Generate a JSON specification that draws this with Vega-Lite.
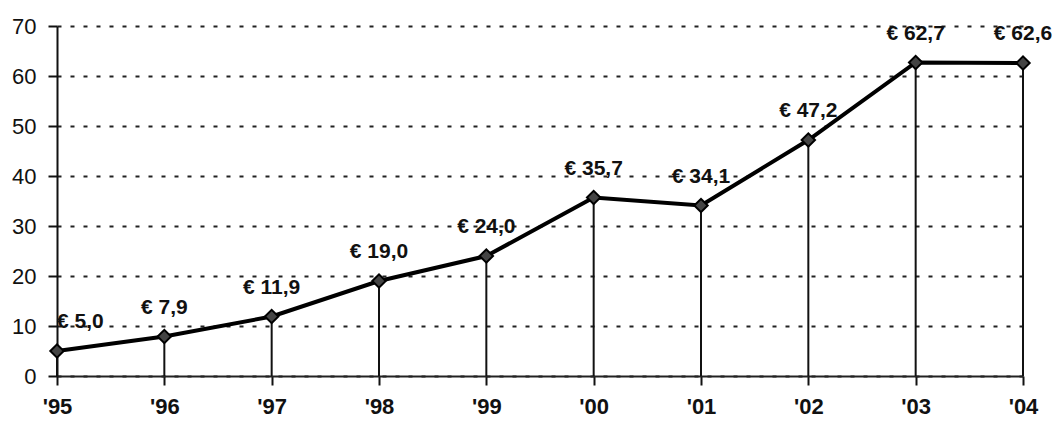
{
  "$schema": "https://vega.github.io/schema/vega-lite/v6.json",
  "width": 966,
  "height": 350,
  "autosize": {"type": "none"},
  "padding": {"left": 57, "top": 26, "right": 29, "bottom": 45},
  "background": "white",
  "config": {
    "view": {"stroke": null},
    "font": "Liberation Sans"
  },
  "data": {
    "values": [
      {"year": "'95", "value": 5.0, "label": "€ 5,0"},
      {"year": "'96", "value": 7.9, "label": "€ 7,9"},
      {"year": "'97", "value": 11.9, "label": "€ 11,9"},
      {"year": "'98", "value": 19.0, "label": "€ 19,0"},
      {"year": "'99", "value": 24.0, "label": "€ 24,0"},
      {"year": "'00", "value": 35.7, "label": "€ 35,7"},
      {"year": "'01", "value": 34.1, "label": "€ 34,1"},
      {"year": "'02", "value": 47.2, "label": "€ 47,2"},
      {"year": "'03", "value": 62.7, "label": "€ 62,7"},
      {"year": "'04", "value": 62.6, "label": "€ 62,6"}
    ]
  },
  "encoding": {
    "x": {
      "field": "year", "type": "ordinal", "sort": null,
      "scale": {"type": "point", "padding": 0},
      "axis": {
        "title": null, "labelAngle": 0, "labelFont": "Liberation Sans",
        "labelFontSize": 22, "labelFontWeight": "bold", "labelColor": "#111",
        "labelPadding": 11, "tickSize": 9, "tickColor": "#111", "tickWidth": 2,
        "domainColor": "#222", "domainWidth": 2, "grid": false
      }
    },
    "y": {
      "field": "value", "type": "quantitative",
      "scale": {"domain": [0, 70], "nice": false},
      "axis": {
        "title": null, "values": [0, 10, 20, 30, 40, 50, 60, 70],
        "labelFont": "Liberation Sans", "labelFontSize": 22, "labelColor": "#111",
        "labelPadding": 12, "tickSize": 9, "tickColor": "#111", "tickWidth": 2,
        "domainColor": "#111", "domainWidth": 2,
        "grid": true, "gridColor": "#222", "gridWidth": 2, "gridDash": [4, 9]
      }
    }
  },
  "layer": [
    {
      "mark": {"type": "rule", "color": "#111", "strokeWidth": 2},
      "encoding": {"y2": {"datum": 0}}
    },
    {
      "mark": {"type": "line", "color": "#000", "strokeWidth": 4}
    },
    {
      "mark": {"type": "point", "shape": "diamond", "size": 180, "filled": true, "fill": "#444", "stroke": "#000", "strokeWidth": 2, "opacity": 1}
    },
    {
      "mark": {
        "type": "text", "font": "Liberation Sans", "fontSize": 21, "fontWeight": "bold",
        "color": "#111", "baseline": "bottom", "dy": -19,
        "align": {"expr": "datum.year == \"'95\" ? 'left' : 'center'"}
      },
      "encoding": {"text": {"field": "label"}}
    }
  ]
}
